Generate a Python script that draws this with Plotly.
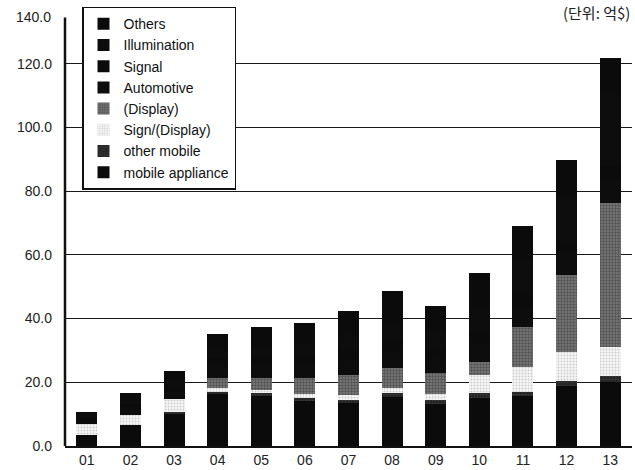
import plotly.graph_objects as go

# LED market by application, 2001-2013 (unit: 100 million USD)
years = ["01", "02", "03", "04", "05", "06", "07", "08", "09", "10", "11", "12", "13"]

mobile_appliance = [3.5, 6.6, 10.3, 16.3, 15.8, 14.2, 13.4, 15.5, 13.2, 15.2, 15.6, 18.8, 20.1]
other_mobile     = [0.0, 0.0, 0.5, 0.8, 0.9, 1.0, 1.1, 1.2, 1.3, 1.4, 1.5, 1.7, 1.9]
sign_display     = [3.4, 3.1, 3.9, 1.0, 1.0, 1.2, 1.6, 1.4, 1.8, 5.7, 7.8, 9.1, 9.2]
display          = [0.0, 0.0, 0.0, 3.4, 3.8, 4.9, 6.2, 6.3, 6.5, 4.2, 12.6, 24.1, 45.2]
automotive       = [1.2, 1.8, 2.4, 3.4, 3.8, 4.2, 4.6, 5.2, 4.6, 5.6, 6.2, 6.8, 7.4]
signal           = [1.0, 1.6, 2.0, 2.8, 3.0, 3.2, 3.4, 3.6, 3.0, 3.4, 3.6, 3.8, 4.0]
illumination     = [0.5, 1.0, 1.4, 2.2, 2.8, 3.4, 4.4, 6.0, 5.6, 8.8, 11.4, 14.6, 22.4]
others           = [1.2, 2.5, 3.2, 5.2, 6.1, 6.6, 7.8, 9.6, 7.8, 10.0, 10.4, 11.0, 11.5]

y_ticks = [0, 20, 40, 60, 80, 100, 120]
y_tick_text = ["0.0", "20.0", "40.0", "60.0", "80.0", "100.0", "120.0"]

FONT = "Liberation Sans, Arial, sans-serif"

# stacked bottom -> top
series = [
    ("mobile appliance", mobile_appliance, dict(color="#0b0b0b")),
    ("other mobile", other_mobile, dict(color="#262626",
                                        pattern=dict(shape=".", fgcolor="#555555", bgcolor="#262626",
                                                     size=3, solidity=0.25))),
    ("Sign/(Display)", sign_display, dict(color="#e6e6e6",
                                          pattern=dict(shape=".", fgcolor="#a0a0a0", bgcolor="#f6f6f6",
                                                       size=3, solidity=0.3))),
    ("(Display)", display, dict(color="#555555",
                                pattern=dict(shape=".", fgcolor="#2a2a2a", bgcolor="#7a7a7a",
                                             size=3, solidity=0.5))),
    ("Automotive", automotive, dict(color="#0d0d0d")),
    ("Signal", signal, dict(color="#0b0b0b")),
    ("Illumination", illumination, dict(color="#0d0d0d")),
    ("Others", others, dict(color="#0b0b0b")),
]

fig = go.Figure()
for name, vals, mk in series:
    mk = dict(mk)
    mk["line"] = dict(width=0)
    fig.add_trace(go.Bar(x=years, y=vals, name=name, marker=mk))

fig.update_layout(
    width=635, height=470,
    barmode="stack", bargap=0.52,
    paper_bgcolor="white", plot_bgcolor="white",
    margin=dict(l=65, r=3, t=0, b=24),
    font=dict(family=FONT, size=14, color="#161616"),
    legend=dict(
        x=0.03, y=0.985, xanchor="left", yanchor="top",
        traceorder="reversed",
        bgcolor="white", bordercolor="#111", borderwidth=1.5,
        font=dict(family=FONT, size=14, color="#111"),
        itemwidth=30, tracegroupgap=0,
    ),
    showlegend=True,
)

fig.update_xaxes(
    showline=True, linecolor="#111", linewidth=2,
    showgrid=False, ticks="", tickfont=dict(size=14, color="#222"),
)
fig.update_yaxes(
    range=[0, 140], tickvals=y_ticks, ticktext=y_tick_text,
    showline=False, showgrid=True, gridcolor="#1a1a1a", gridwidth=1,
    zeroline=False, ticks="", ticklabelstandoff=12,
    tickfont=dict(size=14, color="#222"),
)

# vertical axis line stopping short of the top label
fig.add_shape(type="line", xref="paper", yref="y", x0=0, x1=0, y0=0, y1=134.5,
              line=dict(color="#111", width=2.5), layer="above")

fig.add_annotation(xref="paper", yref="paper", x=0, y=1 - 17 / 446, xanchor="right",
                   xshift=-12, yanchor="middle", text="140.0", showarrow=False,
                   font=dict(family=FONT, size=14, color="#222"))

fig.add_annotation(xref="paper", yref="paper", x=1, y=1 - 13 / 446, xanchor="right",
                   yanchor="middle", text="(단위: 억$)", showarrow=False,
                   font=dict(family="Noto Sans CJK KR", size=15, color="#222"))

fig.write_html("out.html")
